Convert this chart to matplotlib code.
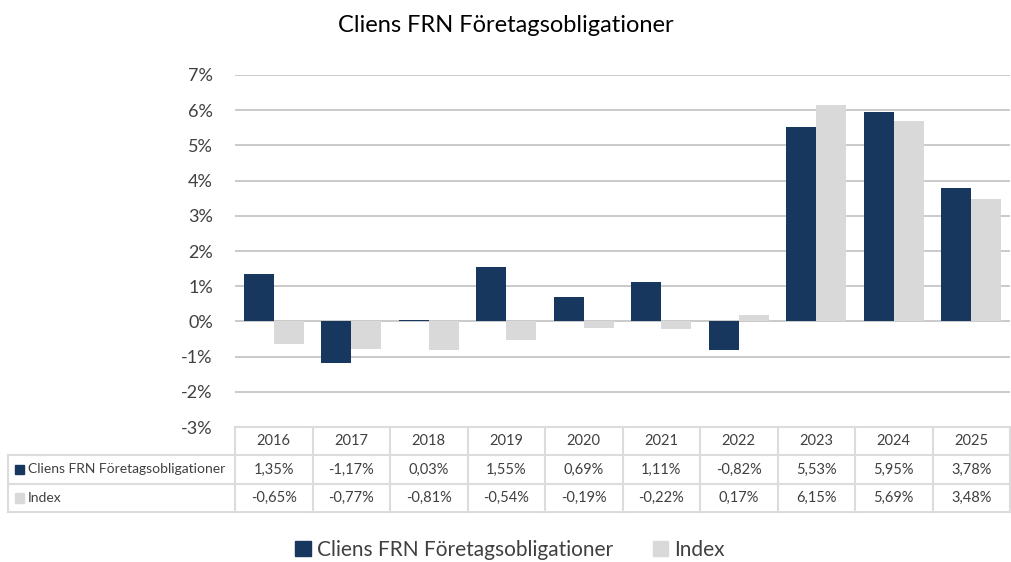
import matplotlib.pyplot as plt
import matplotlib.transforms as mtransforms
from matplotlib.patches import Rectangle
import numpy as np

plt.rcParams["font.family"] = "Lato"

years = ["2016", "2017", "2018", "2019", "2020", "2021", "2022", "2023", "2024", "2025"]
fund = [1.35, -1.17, 0.03, 1.55, 0.69, 1.11, -0.82, 5.53, 5.95, 3.78]
index = [-0.65, -0.77, -0.81, -0.54, -0.19, -0.22, 0.17, 6.15, 5.69, 3.48]
series_names = ["Cliens FRN Företagsobligationer", "Index"]

dark = "#17375e"
light = "#d9d9d9"
grid_col = "#c6c6c6"
line_col = "#dcdcdc"
text_col = "#404040"

W, H = 1011, 562
fig = plt.figure(figsize=(W / 100, H / 100), dpi=100)
ax = fig.add_axes([235 / W, (H - 427) / H, 775 / W, 352 / H])

x = np.arange(len(years))
bw = 0.387
ax.bar(x - bw / 2, fund, bw, color=dark, linewidth=0, zorder=3)
ax.bar(x + bw / 2, index, bw, color=light, linewidth=0, zorder=3)

ax.set_xlim(-0.5, len(years) - 0.5)
ax.set_ylim(-3, 7)
ax.set_yticks(range(-3, 8))
ax.set_yticklabels([f"{v}%" for v in range(-3, 8)], fontsize=13, color=text_col)
ax.tick_params(axis="y", length=0, pad=16)
ax.set_xticks([])
ax.yaxis.grid(True, color=grid_col, linewidth=1.3, zorder=0)
for s in ax.spines.values():
    s.set_visible(False)

# data table under the plot
tr = mtransforms.blended_transform_factory(ax.transData, ax.transAxes)
row_h = 28.3 / 352
left = -0.5 - 227 / 77.5
n = len(years)
kw = dict(color=line_col, linewidth=1.5, transform=tr, clip_on=False)

# horizontal lines
ax.plot([-0.5, n - 0.5], [0, 0], **kw)
for r in range(1, 4):
    ax.plot([left, n - 0.5], [-r * row_h, -r * row_h], **kw)
# vertical lines
for i in range(n + 1):
    ax.plot([i - 0.5, i - 0.5], [0, -3 * row_h], **kw)
ax.plot([left, left], [-row_h, -3 * row_h], **kw)

def fmt(v):
    return f"{v:.2f}%".replace(".", ",")

for i, yr in enumerate(years):
    ax.text(i, -0.5 * row_h, yr, ha="center", va="center", fontsize=10.5,
            color=text_col, transform=tr)
    ax.text(i, -1.5 * row_h, fmt(fund[i]), ha="center", va="center",
            fontsize=10.5, color=text_col, transform=tr)
    ax.text(i, -2.5 * row_h, fmt(index[i]), ha="center", va="center",
            fontsize=10.5, color=text_col, transform=tr)

for r, (name, col) in enumerate(zip(series_names, [dark, light])):
    yc = -(r + 1.5) * row_h
    sq = Rectangle((left + 0.09, yc - 0.0135), 0.115, 0.027, color=col,
                   transform=tr, clip_on=False)
    ax.add_patch(sq)
    ax.text(left + 0.26, yc, name, ha="left", va="center", fontsize=10,
            color=text_col, transform=tr)

fig.suptitle("Cliens FRN Företagsobligationer", x=0.5, y=1 - 25 / H, va="center",
             fontsize=17, color="black")

handles = [Rectangle((0, 0), 1, 1, color=dark), Rectangle((0, 0), 1, 1, color=light)]
fig.legend(handles, series_names, loc="center", bbox_to_anchor=(510 / W, 1 - 550 / H),
           ncol=2, frameon=False, fontsize=15, handlelength=0.75, handleheight=0.75,
           handletextpad=0.3, columnspacing=1.9, labelcolor=text_col)

fig.savefig("out.png", dpi=100)
